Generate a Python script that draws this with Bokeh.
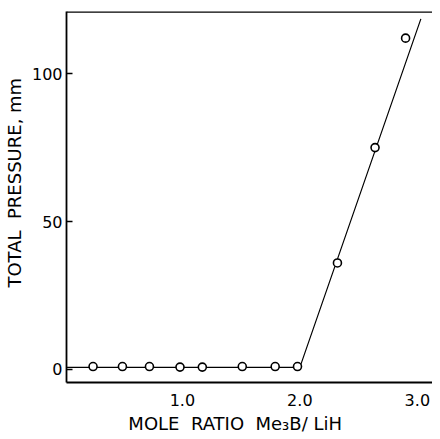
from bokeh.plotting import figure
from bokeh.models import Range1d, Span, FixedTicker
from bokeh.embed import file_html
from bokeh.resources import INLINE

# data
ratio = [0.24, 0.49, 0.72, 0.98, 1.17, 1.51, 1.79, 1.98, 2.32, 2.64, 2.90]
pressure = [1.0, 1.0, 1.0, 0.8, 0.8, 1.0, 1.0, 1.0, 36.0, 75.0, 112.0]
fit_ratio = [0.0, 2.0, 3.03]
fit_pressure = [0.7, 0.7, 118.5]
x_ticks = [1.0, 2.0, 3.0]
y_ticks = [0, 50, 100]

FONT = "DejaVu Sans"
NB = "\u00a0"

p = figure(width=432, height=436, output_backend="svg", toolbar_location=None,
           x_range=Range1d(0.014, 3.129), y_range=Range1d(-4.4, 121),
           min_border_left=66, min_border_right=0, min_border_top=11, min_border_bottom=53)
p.outline_line_color = None
p.grid.visible = False
p.background_fill_color = "white"

p.line(fit_ratio, fit_pressure, line_color="black", line_width=1.2)
p.scatter(ratio, pressure, marker="circle", size=8, fill_color="white",
          line_color="black", line_width=1.6)

p.add_layout(Span(location=121, dimension="width", line_color="black", line_width=2.5))

xa = p.xaxis[0]
xa.ticker = FixedTicker(ticks=x_ticks)
xa.major_label_overrides = {1.0: "1.0", 2.0: "2.0", 3.0: "3.0"}
xa.axis_label = "MOLE" + NB + NB + "RATIO" + NB + NB + "Me\u2083B/" + NB + "LiH" + NB * 5
xa.axis_line_width = 2.2
xa.major_tick_line_color = None
xa.minor_tick_line_color = None
xa.major_tick_in = 0
xa.major_tick_out = 0
xa.major_label_standoff = 11
xa.axis_label_standoff = 4
xa.major_label_text_font = FONT
xa.major_label_text_font_size = "16px"
xa.axis_label_text_font = FONT
xa.axis_label_text_font_size = "18px"
xa.axis_label_text_font_style = "normal"
xa.major_label_text_color = "black"
xa.axis_label_text_color = "black"

ya = p.yaxis[0]
ya.ticker = FixedTicker(ticks=y_ticks)
ya.axis_label = NB * 5 + "TOTAL" + NB + " PRESSURE," + NB + "mm"
ya.axis_line_width = 1.8
ya.major_tick_in = 6
ya.major_tick_out = 0
ya.major_tick_line_width = 1.5
ya.minor_tick_line_color = None
ya.major_label_standoff = 4
ya.axis_label_standoff = 4
ya.major_label_text_font = FONT
ya.major_label_text_font_size = "16px"
ya.axis_label_text_font = FONT
ya.axis_label_text_font_size = "18px"
ya.axis_label_text_font_style = "normal"
ya.major_label_text_color = "black"
ya.axis_label_text_color = "black"

open("out.html", "w").write(file_html(p, INLINE))
